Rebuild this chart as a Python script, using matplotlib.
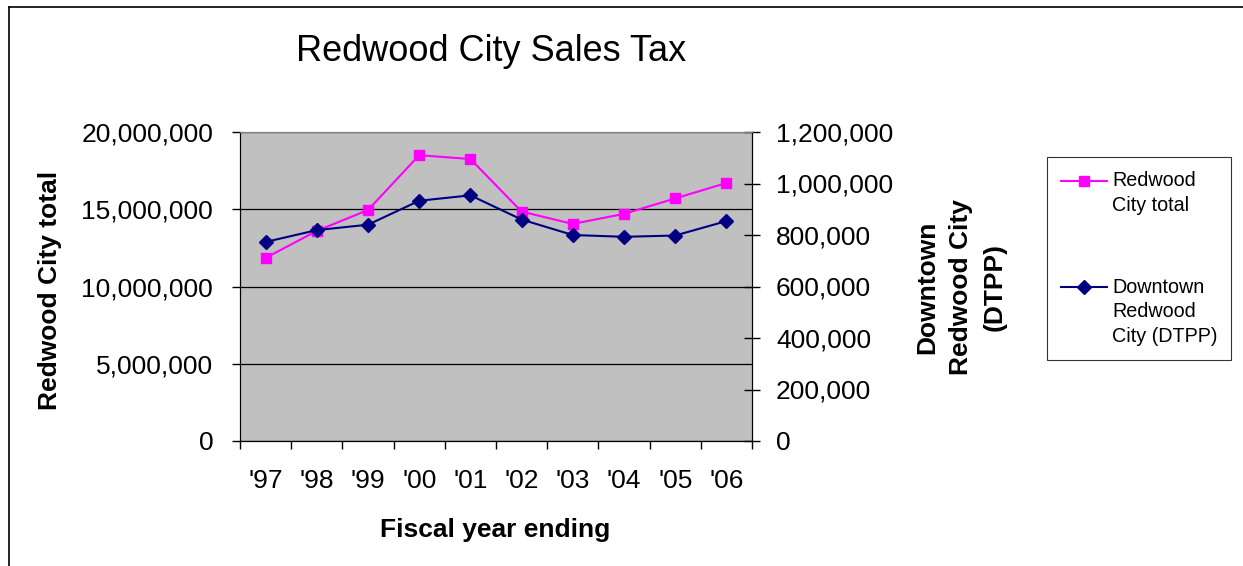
import numpy as np
import matplotlib.pyplot as plt
from matplotlib.lines import Line2D
from matplotlib.ticker import FuncFormatter, FixedLocator
from matplotlib.legend_handler import HandlerLine2D
from matplotlib.transforms import Affine2D

plt.rcParams['font.family'] = ['Liberation Sans', 'DejaVu Sans']

# Sales tax by fiscal year
years = ["'97", "'98", "'99", "'00", "'01", "'02", "'03", "'04", "'05", "'06"]
city_total = [11850000, 13600000, 14950000, 18500000, 18250000,
              14850000, 14050000, 14700000, 15700000, 16700000]
downtown = [773000, 819000, 840000, 933000, 954000,
            860000, 800000, 793000, 798000, 854000]


class FirstLineHandler(HandlerLine2D):
    # puts the legend swatch level with the first line of a wrapped label
    def __init__(self, shift, **kw):
        super().__init__(**kw)
        self.shift = shift

    def create_artists(self, legend, orig_handle, xdescent, ydescent,
                       width, height, fontsize, trans):
        arts = super().create_artists(legend, orig_handle, xdescent, ydescent,
                                      width, height, fontsize, trans)
        for a in arts:
            a.set_transform(Affine2D().translate(0, self.shift) + trans)
        return arts


fig = plt.figure(figsize=(12.43, 5.66), dpi=100)
ax = fig.add_axes([240/1243, 1-441/566, 512/1243, 309/566])
ax2 = ax.twinx()

x = np.arange(len(years))
fmt = FuncFormatter(lambda v, p: f"{v:,.0f}")

ax.set_facecolor('#C0C0C0')
ax.set_ylim(0, 20000000)
ax.set_yticks(np.arange(0, 20000001, 5000000))
ax.yaxis.set_major_formatter(fmt)
ax.grid(axis='y', color='black', linewidth=0.9)
ax.set_axisbelow(True)
ax.set_xlim(-0.5, len(years) - 0.5)
ax.xaxis.set_major_locator(FixedLocator(np.arange(-0.5, len(years), 1)))
ax.xaxis.set_minor_locator(FixedLocator(x))
ax.set_xticklabels([])
ax.set_xticklabels(years, minor=True)
ax.tick_params(axis='x', which='major', length=5.8, width=1, direction='out')
ax.tick_params(axis='x', which='minor', length=0, pad=20.5, labelsize=19)
ax.tick_params(axis='y', length=5.8, width=1, direction='out', labelsize=19, pad=13.5)

ax2.set_ylim(0, 1200000)
ax2.set_yticks(np.arange(0, 1200001, 200000))
ax2.yaxis.set_major_formatter(fmt)
ax2.tick_params(axis='y', length=11.5, width=1, direction='inout', labelsize=19, pad=11.5)

for a in (ax, ax2):
    a.spines['top'].set_color('#808080')
    for s in ('left', 'right', 'bottom'):
        a.spines[s].set_color('black')

l1, = ax.plot(x, city_total, color='#FF00FF', marker='s', markersize=7.5,
              linewidth=1.5, clip_on=False, zorder=3)
l2, = ax2.plot(x, downtown, color='#000080', marker='D', markersize=7,
               linewidth=1.5, clip_on=False, zorder=3)

fig.text(491/1243, 1-61/566, 'Redwood City Sales Tax', fontsize=26,
         ha='center', va='baseline')
fig.text(495/1243, 1-537/566, 'Fiscal year ending', fontsize=19,
         fontweight='bold', ha='center', va='baseline')
fig.text(50/1243, 1-290/566, 'Redwood City total', fontsize=19,
         fontweight='bold', rotation=90, ha='center', va='center')
fig.text(961/1243, 1-287/566, 'Downtown\nRedwood City\n(DTPP)', fontsize=19,
         fontweight='bold', rotation=90, ha='center', va='center',
         multialignment='center', linespacing=1.5)

leg = fig.legend([l1, l2], ['Redwood\nCity total', 'Downtown\nRedwood\nCity (DTPP)'],
                 loc='upper left', bbox_to_anchor=(1047/1243, 1-157/566),
                 borderaxespad=0, fontsize=14.2, frameon=True, fancybox=False,
                 edgecolor='black', handlelength=2.35, labelspacing=3.2,
                 borderpad=0.7, handletextpad=0.25,
                 handler_map={l1: FirstLineHandler(9), l2: FirstLineHandler(18)})
leg.get_frame().set_linewidth(0.8)
for t in leg.get_texts():
    t.set_linespacing(1.38)

# outer chart frame (left and top edges)
fig.add_artist(Line2D([9/1243, 9/1243], [0, 1-7/566], color='black', linewidth=1.2))
fig.add_artist(Line2D([9/1243, 1], [1-7/566, 1-7/566], color='black', linewidth=1.2))

fig.savefig('out.png', dpi=100)
